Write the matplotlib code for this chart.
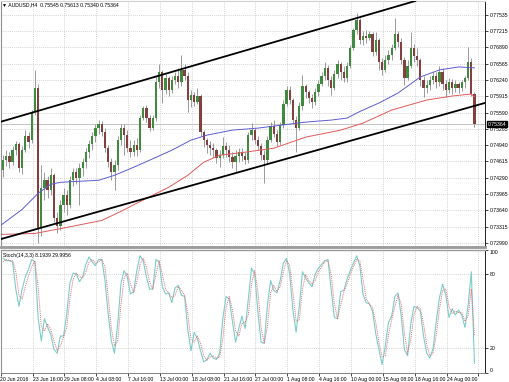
import matplotlib
matplotlib.use("Agg")
import matplotlib.pyplot as plt
import matplotlib.transforms as mtransforms
import numpy as np

plt.rcParams['font.family'] = ['Liberation Sans', 'DejaVu Sans']

# AUDUSD H4 - one candle per two H4 bars, prices in pips (x 0.0001)
opens = [7444, 7464, 7472, 7460, 7484, 7496, 7448, 7484, 7512, 7504,
         7560, 7608, 7328, 7408, 7424, 7404, 7434, 7348, 7332, 7374,
         7394, 7374, 7424, 7440, 7428, 7448, 7460, 7480, 7496, 7512,
         7528, 7536, 7520, 7488, 7460, 7440, 7454, 7504, 7528, 7514,
         7488, 7480, 7494, 7484, 7548, 7568, 7548, 7528, 7548, 7620,
         7640, 7604, 7628, 7604, 7624, 7632, 7620, 7644, 7632, 7584,
         7594, 7580, 7592, 7520, 7504, 7494, 7488, 7484, 7468, 7474,
         7492, 7484, 7470, 7460, 7472, 7480, 7472, 7464, 7514, 7524,
         7504, 7492, 7474, 7464, 7504, 7532, 7516, 7500, 7534, 7576,
         7604, 7584, 7544, 7528, 7572, 7612, 7600, 7588, 7580, 7600,
         7616, 7632, 7648, 7624, 7608, 7636, 7656, 7640, 7628, 7652,
         7688, 7724, 7744, 7704, 7712, 7708, 7716, 7680, 7704, 7660,
         7644, 7664, 7674, 7688, 7716, 7700, 7664, 7628, 7652, 7688,
         7672, 7664, 7624, 7608, 7614, 7624, 7632, 7620, 7640, 7616,
         7604, 7620, 7608, 7616, 7608, 7620, 7628, 7660, 7596]
closes = [7464, 7472, 7460, 7484, 7496, 7448, 7484, 7512, 7500, 7560,
          7608, 7328, 7408, 7424, 7404, 7434, 7348, 7332, 7374, 7394,
          7374, 7424, 7440, 7428, 7448, 7460, 7480, 7496, 7512, 7528,
          7536, 7520, 7488, 7460, 7440, 7454, 7504, 7528, 7514, 7488,
          7480, 7494, 7484, 7548, 7568, 7548, 7528, 7548, 7620, 7640,
          7604, 7628, 7604, 7624, 7632, 7620, 7644, 7632, 7584, 7594,
          7580, 7592, 7520, 7504, 7494, 7488, 7484, 7468, 7474, 7492,
          7484, 7470, 7460, 7472, 7480, 7472, 7464, 7514, 7524, 7504,
          7492, 7474, 7464, 7504, 7532, 7516, 7500, 7534, 7576, 7604,
          7584, 7544, 7528, 7572, 7612, 7600, 7588, 7580, 7600, 7616,
          7632, 7648, 7624, 7608, 7636, 7656, 7640, 7628, 7652, 7688,
          7724, 7744, 7704, 7712, 7708, 7716, 7680, 7704, 7660, 7644,
          7664, 7674, 7688, 7716, 7700, 7664, 7628, 7652, 7688, 7672,
          7664, 7624, 7608, 7614, 7624, 7632, 7620, 7640, 7616, 7604,
          7620, 7608, 7616, 7608, 7620, 7628, 7660, 7596, 7536]
highs = [7474, 7484, 7480, 7492, 7502, 7500, 7492, 7524, 7520, 7564,
         7644, 7616, 7454, 7440, 7432, 7448, 7438, 7360, 7384, 7408,
         7404, 7432, 7448, 7448, 7458, 7468, 7488, 7504, 7520, 7536,
         7544, 7542, 7528, 7494, 7468, 7464, 7512, 7536, 7536, 7524,
         7504, 7504, 7508, 7554, 7572, 7574, 7554, 7554, 7632, 7656,
         7644, 7636, 7632, 7632, 7640, 7648, 7674, 7656, 7640, 7604,
         7600, 7608, 7596, 7524, 7508, 7502, 7498, 7488, 7484, 7510,
         7500, 7494, 7480, 7484, 7488, 7488, 7480, 7520, 7538, 7528,
         7512, 7498, 7484, 7512, 7540, 7544, 7524, 7540, 7584, 7612,
         7612, 7588, 7552, 7580, 7634, 7616, 7604, 7596, 7608, 7624,
         7640, 7660, 7654, 7632, 7644, 7664, 7660, 7652, 7660, 7694,
         7728, 7758, 7748, 7722, 7724, 7722, 7720, 7720, 7708, 7668,
         7674, 7684, 7696, 7748, 7722, 7708, 7670, 7664, 7720, 7696,
         7688, 7668, 7632, 7624, 7632, 7640, 7640, 7652, 7648, 7624,
         7628, 7626, 7624, 7620, 7624, 7632, 7690, 7668, 7600]
lows = [7430, 7452, 7448, 7454, 7474, 7440, 7436, 7480, 7488, 7498,
        7554, 7298, 7312, 7384, 7388, 7394, 7340, 7318, 7324, 7360,
        7354, 7368, 7412, 7416, 7374, 7432, 7448, 7468, 7484, 7500,
        7516, 7512, 7480, 7450, 7424, 7404, 7444, 7494, 7474, 7480,
        7470, 7472, 7472, 7480, 7544, 7540, 7522, 7524, 7542, 7608,
        7578, 7596, 7592, 7598, 7616, 7608, 7612, 7624, 7560, 7570,
        7572, 7576, 7512, 7490, 7478, 7474, 7470, 7458, 7450, 7468,
        7470, 7460, 7448, 7440, 7460, 7462, 7456, 7458, 7504, 7496,
        7484, 7464, 7418, 7456, 7500, 7510, 7492, 7494, 7528, 7572,
        7576, 7536, 7480, 7524, 7564, 7588, 7578, 7568, 7574, 7592,
        7612, 7624, 7612, 7594, 7604, 7628, 7624, 7620, 7620, 7648,
        7684, 7716, 7696, 7694, 7698, 7704, 7672, 7674, 7644, 7634,
        7640, 7656, 7664, 7684, 7690, 7656, 7614, 7624, 7648, 7660,
        7652, 7612, 7590, 7598, 7604, 7616, 7608, 7612, 7604, 7590,
        7598, 7596, 7600, 7598, 7602, 7608, 7624, 7592, 7530]

# moving averages (candle index, pips)
ma_fast_idx = [-1, 6, 11, 15, 18, 30, 35, 41, 46, 53, 59, 64, 72, 80, 85,
               95, 103, 108, 111, 113, 118, 124, 131, 137, 143, 148]
ma_fast = [7333, 7366, 7398, 7416, 7420, 7424, 7434, 7450, 7464, 7484, 7504,
           7514, 7524, 7528, 7532, 7540, 7544, 7548, 7558, 7564, 7578, 7598,
           7630, 7644, 7650, 7648]
ma_slow_idx = [-1, 10, 20, 31, 37, 45, 52, 58, 63, 68, 76, 85, 95, 106, 113,
               122, 133, 141, 147, 148]
ma_slow = [7316, 7318, 7330, 7344, 7362, 7388, 7410, 7434, 7460, 7474, 7480,
           7488, 7510, 7524, 7538, 7564, 7584, 7592, 7596, 7590]

# trend channel anchors (candle index, pips)
channel_top = [(0, 7542), (120, 7764)]
channel_bottom = [(0, 7308), (140, 7558)]

stoch_main = [93, 91, 91, 90, 68, 54, 68, 78, 84, 92,
              90, 45, 26, 44, 37, 31, 19, 16, 30, 30,
              48, 73, 81, 80, 74, 78, 88, 94, 90, 87,
              92, 92, 75, 48, 26, 16, 40, 72, 83, 78,
              64, 66, 83, 95, 91, 78, 68, 68, 92, 90,
              70, 64, 65, 57, 69, 71, 63, 62, 35, 18,
              33, 28, 18, 9, 11, 16, 12, 11, 16, 44,
              62, 60, 42, 25, 36, 46, 36, 60, 85, 80,
              50, 25, 24, 55, 75, 67, 65, 75, 89, 93,
              80, 51, 33, 54, 82, 77, 73, 70, 80, 85,
              88, 91, 92, 68, 45, 44, 66, 67, 76, 83,
              89, 95, 87, 64, 57, 56, 50, 32, 19, 7,
              22, 41, 46, 62, 65, 46, 19, 14, 40, 54,
              53, 50, 30, 16, 12, 20, 42, 61, 72, 63,
              45, 52, 47, 51, 47, 37, 55, 82, 8]
stoch_signal = [90, 92, 91, 91, 82, 63, 60, 70, 79, 86,
                91, 70, 38, 34, 40, 35, 26, 18, 22, 29,
                37, 60, 76, 81, 78, 77, 82, 90, 92, 89,
                90, 92, 86, 62, 36, 22, 26, 55, 77, 81,
                72, 65, 74, 88, 93, 86, 74, 68, 80, 91,
                80, 68, 65, 61, 63, 70, 67, 63, 48, 27,
                25, 30, 24, 14, 10, 13, 14, 12, 13, 28,
                53, 62, 51, 34, 30, 40, 41, 47, 72, 83,
                66, 37, 24, 38, 65, 71, 66, 70, 82, 91,
                87, 65, 42, 43, 68, 80, 75, 72, 75, 82,
                86, 90, 91, 80, 56, 44, 55, 66, 72, 80,
                86, 92, 91, 76, 60, 56, 53, 41, 25, 13,
                14, 31, 43, 54, 63, 56, 32, 16, 27, 47,
                54, 52, 40, 23, 14, 16, 31, 52, 67, 68,
                54, 48, 50, 49, 49, 42, 46, 68, 30]

price_ticks = [0.77535, 0.77215, 0.76890, 0.76565, 0.76240, 0.75915, 0.75590,
               0.75265, 0.74940, 0.74615, 0.74290, 0.73965, 0.73640, 0.73315,
               0.72990]
date_labels = ["20 Jun 2016", "23 Jun 16:00", "29 Jun 08:00", "4 Jul 08:00",
               "7 Jul 16:00", "13 Jul 00:00", "18 Jul 08:00", "21 Jul 16:00",
               "27 Jul 00:00", "1 Aug 08:00", "4 Aug 16:00", "10 Aug 00:00",
               "15 Aug 08:00", "18 Aug 16:00", "24 Aug 00:00", ""]

title = "\u25bc AUDUSD,H4  0.75545 0.75613 0.75340 0.75364"
stoch_title = "Stoch(14,3,3) 8.1939 29.9956"
last_price = "0.75364"

o = np.array(opens) / 10000
c = np.array(closes) / 10000
h = np.array(highs) / 10000
l = np.array(lows) / 10000
x = np.arange(len(o))
up = c >= o

fs = 3.7
grid_kw = dict(color='#c8c8c8', ls=(0, (1.5, 1.5)), lw=0.5)
tick_pos = [-0.8] + [9.25 + 10 * j for j in range(len(date_labels) - 1)]

fig = plt.figure(figsize=(5.1, 3.82), dpi=100)
ax = fig.add_axes([0.5 / 510, 1 - 247 / 382, 484.5 / 510, 246 / 382])
ax2 = fig.add_axes([0.5 / 510, 1 - 373 / 382, 484.5 / 510, 123.4 / 382])

# --- main window ---
ax.vlines(x, l, h, color='#9a9a9a', lw=0.7, zorder=3)
ax.bar(x[up], (c - o)[up], bottom=o[up], width=0.72, color='#3f8a3f',
       linewidth=0, zorder=4)
ax.bar(x[~up], (c - o)[~up], bottom=o[~up], width=0.72, color='#843f3f',
       linewidth=0, zorder=4)

ax.plot(ma_fast_idx, np.array(ma_fast) / 10000, color='#5c5cd0', lw=0.7, zorder=5)
ax.plot(ma_slow_idx, np.array(ma_slow) / 10000, color='#e05a5a', lw=0.7, zorder=5)

for (k1, p1), (k2, p2) in [channel_top, channel_bottom]:
    ax.axline((k1, p1 / 10000), (k2, p2 / 10000), color='black', lw=1.3, zorder=6)

ax.axhline(c[-1], color='#c4c4c4', lw=0.7, zorder=1)

ax.set_xlim(-0.8, 151.3)
ax.set_ylim(0.72910, 0.77814)
ax.set_yticks(price_ticks)
ax.set_yticklabels([f"{p:.5f}" for p in price_ticks])
ax.set_xticks(tick_pos)
ax.grid(True, **grid_kw)
ax.set_axisbelow(True)
ax.yaxis.tick_right()
ax.tick_params(axis='y', direction='out', length=2, width=0.5, pad=1.5,
               labelsize=fs)
ax.tick_params(axis='x', length=0, labelbottom=False)

ax.text(0.004, 0.994, title, transform=ax.transAxes, fontsize=fs,
        va='top', ha='left')
trans = mtransforms.blended_transform_factory(ax.transAxes, ax.transData)
ax.text(1.0055, c[-1], last_price,
        transform=trans, color='white', fontsize=fs, va='center', ha='left',
        bbox=dict(facecolor='black', edgecolor='black', pad=0.6),
        clip_on=False, zorder=10)

for side, col, lw in [('top', '#d0d0d0', 0.8), ('left', '#909090', 0.8),
                      ('right', 'black', 0.6), ('bottom', '#9a9a9a', 2.0)]:
    ax.spines[side].set_color(col)
    ax.spines[side].set_linewidth(lw)

# --- stochastic window ---
ax2.plot(x, stoch_main, color='#7ccccc', lw=0.8, zorder=3)
ax2.plot(x, stoch_signal, color='#e07070', lw=0.7, ls=(0, (1, 1)), zorder=4)
for lvl in (20, 80):
    ax2.axhline(lvl, zorder=1, **grid_kw)

ax2.set_xlim(-0.8, 151.3)
ax2.set_ylim(0, 100)
ax2.set_yticks([100, 80, 20, 0])
ax2.set_yticklabels(["100", "80", "20", "0"])
ax2.yaxis.tick_right()
ax2.tick_params(axis='y', direction='out', length=2, width=0.5, pad=1.5,
                labelsize=fs)
labels = ax2.get_yticklabels()
labels[0].set_va('top')
labels[3].set_va('bottom')

ax2.set_xticks(tick_pos)
ax2.set_xticklabels(date_labels)
ax2.grid(True, axis='x', **grid_kw)
ax2.set_axisbelow(True)
ax2.tick_params(axis='x', direction='out', length=2, width=0.5, pad=0.8,
                labelsize=fs)
for lbl in ax2.get_xticklabels():
    lbl.set_ha('left')

ax2.text(0.005, 0.975, stoch_title, transform=ax2.transAxes, fontsize=fs,
         va='top', ha='left')

for side, col, lw in [('top', '#9a9a9a', 1.0), ('left', '#909090', 0.8),
                      ('right', 'black', 0.6), ('bottom', '#707070', 0.6)]:
    ax2.spines[side].set_color(col)
    ax2.spines[side].set_linewidth(lw)

fig.savefig("out.png", dpi=100, facecolor='white')
